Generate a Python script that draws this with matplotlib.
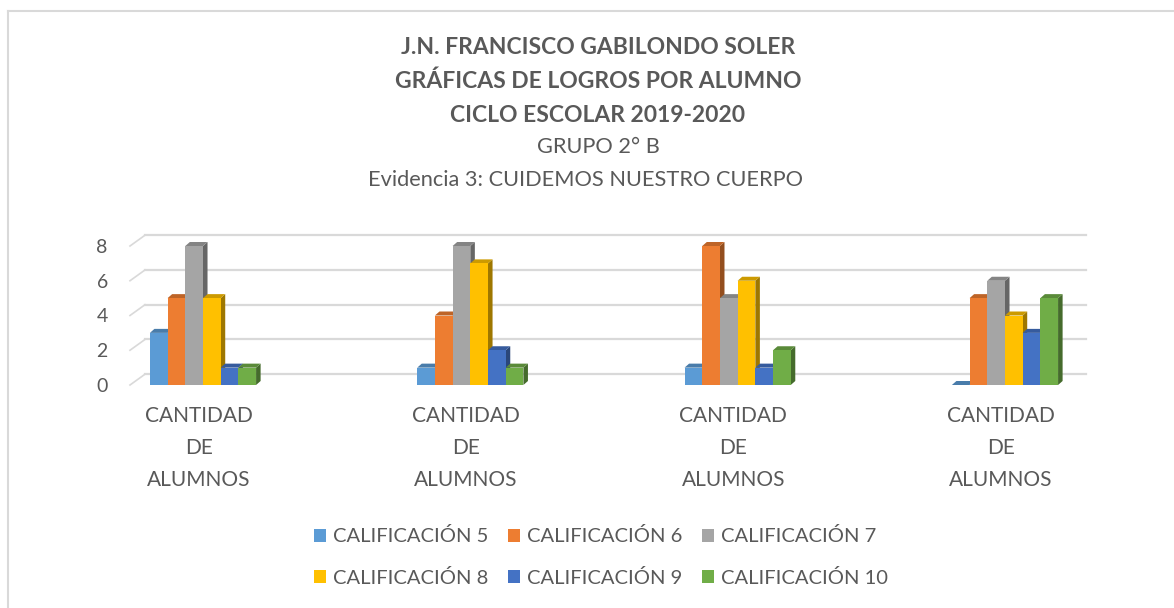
import numpy as np
import matplotlib
matplotlib.use("Agg")
import matplotlib.pyplot as plt
from matplotlib.patches import Polygon
from matplotlib.lines import Line2D
from matplotlib.colors import to_rgb

plt.rcParams['font.family'] = ['Lato', 'DejaVu Sans']

# ---- data ------------------------------------------------------------------
categories = ["CANTIDAD\nDE\nALUMNOS"] * 4
series_names = ["CALIFICACIÓN 5", "CALIFICACIÓN 6", "CALIFICACIÓN 7",
                "CALIFICACIÓN 8", "CALIFICACIÓN 9", "CALIFICACIÓN 10"]
cal5 = [3, 1, 1, 0]
cal6 = [5, 4, 8, 5]
cal7 = [8, 8, 5, 6]
cal8 = [5, 7, 6, 4]
cal9 = [1, 2, 1, 3]
cal10 = [1, 1, 2, 5]
series = [cal5, cal6, cal7, cal8, cal9, cal10]
colors = ["#5B9BD5", "#ED7D31", "#A5A5A5", "#FFC000", "#4472C4", "#70AD47"]
yticks = [0, 2, 4, 6, 8]

title_lines = ["J.N. FRANCISCO GABILONDO SOLER",
               "GRÁFICAS DE LOGROS POR ALUMNO",
               "CICLO ESCOLAR 2019-2020"]
sub_lines = ["GRUPO 2° B", "Evidencia 3: CUIDEMOS NUESTRO CUERPO"]

txt = "#595959"
W, H = 1174, 608


def shade(c, f):
    r, g, b = to_rgb(c)
    return (r * f, g * f, b * f)


fig = plt.figure(figsize=(W / 100, H / 100), dpi=100)
# axes = front plane of the 3D box
ax = fig.add_axes([130 / W, (H - 385) / H, 941 / W, 139 / H])
ax.set_xlim(-0.273, 3.247)
ax.set_ylim(0, 8)
for s in ax.spines.values():
    s.set_visible(False)

# depth of the floor/back wall and of the bars (data units)
gdx, gdy = 0.056, 0.62
bdx, bdy = 0.017, 0.23
x0, x1 = ax.get_xlim()

# gridlines on the back wall plus the little diagonal at the left edge
for v in yticks:
    ax.plot([x0 + gdx, x1 + gdx], [v + gdy, v + gdy], color="#D9D9D9",
            lw=1.6, clip_on=False, zorder=0)
    ax.plot([x0, x0 + gdx], [v, v + gdy], color="#D9D9D9",
            lw=1.2, clip_on=False, zorder=0)

x = np.arange(len(categories))
w = 0.0662
handles = []
for k, (vals, col) in enumerate(zip(series, colors)):
    xs = x + (k - 2.5) * w
    bars = ax.bar(xs, vals, width=w, color=col, zorder=3 + 3 * k,
                  clip_on=False, label=series_names[k])
    handles.append(bars)
    for xc, h in zip(xs, vals):
        r = xc + w / 2
        l = xc - w / 2
        side = Polygon([(r, 0), (r + bdx, bdy), (r + bdx, h + bdy), (r, h)],
                       closed=True, fc=shade(col, 0.62), ec="none",
                       zorder=1 + 3 * k, clip_on=False)
        top = Polygon([(l, h), (r, h), (r + bdx, h + bdy), (l + bdx, h + bdy)],
                      closed=True, fc=shade(col, 0.8), ec="none",
                      zorder=2 + 3 * k, clip_on=False)
        ax.add_patch(side)
        ax.add_patch(top)

ax.set_yticks(yticks)
ax.set_yticklabels([str(v) for v in yticks])
ax.set_xticks(x - 0.016)
ax.set_xticklabels(categories, linespacing=1.75)
ax.tick_params(axis="y", length=0, labelsize=14, labelcolor=txt, pad=16)
ax.tick_params(axis="x", length=0, labelsize=15, labelcolor=txt, pad=15)

# titles
for i, t in enumerate(title_lines):
    fig.text(598 / W, 1 - (47 + 34 * i) / H, t, ha="center", va="center",
             fontsize=16.5, fontweight="bold", color=txt)
fig.text(598 / W, 1 - 147 / H, sub_lines[0], ha="center", va="center",
         fontsize=15.7, color=txt)
fig.text(586 / W, 1 - 180 / H, sub_lines[1], ha="center", va="center",
         fontsize=15.7, color=txt)

# legend, row-major order
order = [0, 3, 1, 4, 2, 5]
fig.legend([handles[i] for i in order], [series_names[i] for i in order],
           ncol=3, loc="center", bbox_to_anchor=(601 / W, 1 - 557 / H),
           frameon=False, fontsize=14.5, labelcolor=txt,
           handlelength=0.6, handleheight=0.6, handletextpad=0.35,
           columnspacing=0.95, labelspacing=1.15)

# chart border (only top and left visible in the crop)
fig.add_artist(Line2D([8 / W, 1], [1 - 11 / H, 1 - 11 / H],
                      transform=fig.transFigure, color="#D9D9D9", lw=1.5))
fig.add_artist(Line2D([8 / W, 8 / W], [0, 1 - 11 / H],
                      transform=fig.transFigure, color="#D9D9D9", lw=1.5))

fig.savefig("out.png", dpi=100)
